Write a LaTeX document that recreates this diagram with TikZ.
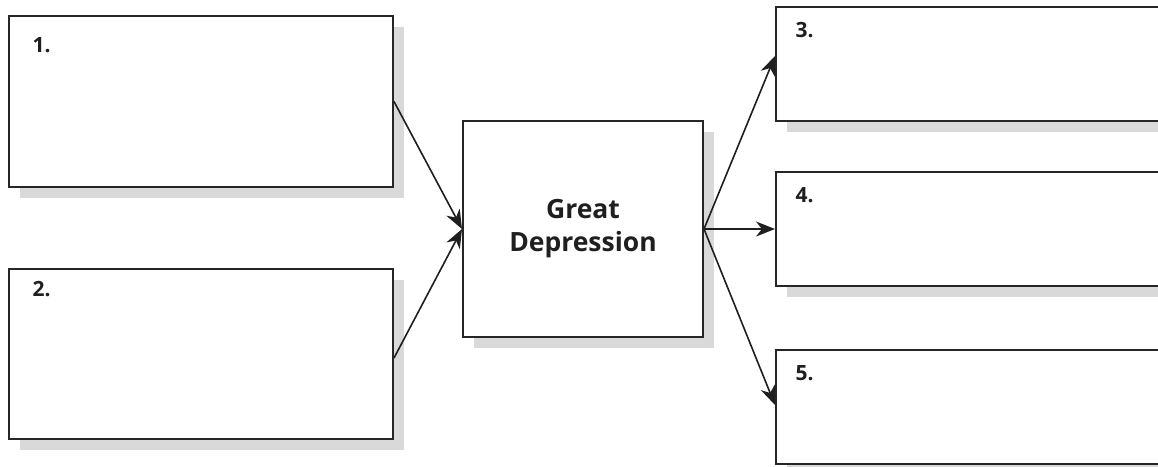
\documentclass[tikz,border=0pt]{standalone}
\usepackage{fontspec}
\setsansfont{Open Sans}
\usetikzlibrary{arrows.meta,shadows}

\tikzset{
  caja/.style={draw=black!85, line width=2pt, fill=white, rectangle,
    anchor=north west, inner sep=0pt,
    general shadow={fill=black!15, shadow xshift=11pt, shadow yshift=-11pt}},
  num/.style={anchor=base west, text=black!88,
    font=\sffamily\bfseries\fontsize{21}{21}\selectfont},
  flecha/.style={draw=black!88, line width=1.6pt,
    -{Stealth[length=19pt,width=15pt,inset=6pt]}}
}

\begin{document}
\begin{tikzpicture}[x=1pt,y=-1pt]
  \path[use as bounding box] (0,0) rectangle (1158,466);
  \clip (0,0) rectangle (1158,466);

  % Causas
  \node[caja, minimum width=384pt, minimum height=171pt] (c1) at (8,15) {};
  \node[num] (n1) at ([xshift=21pt,yshift=-37pt]c1.north west) {1.};
  \node[caja, minimum width=384pt, minimum height=170pt] (c2) at (8,268) {};
  \node[num] (n2) at ([xshift=21pt,yshift=-28pt]c2.north west) {2.};

  % Centro
  \node[caja, anchor=center, minimum width=240pt, minimum height=216pt,
    align=center, text=black!88,
    font=\sffamily\bfseries\fontsize{26.5}{33}\selectfont] (gd) at (583,229)
    {Great\\Depression};

  % Efectos (se salen por la derecha)
  \foreach \n/\y in {3/6,4/171,5/349}{
    \node[caja, minimum width=420pt, minimum height=114pt] (e\n) at (775,\y) {};
    \node[num] (n\n) at ([xshift=17pt,yshift=-31pt]e\n.north west) {\n.};
  }

  % Flechas
  \draw[flecha] (c1.east) -- (gd.west);
  \draw[flecha] ([yshift=-4pt]c2.east) -- (gd.west);
  \draw[flecha] (gd.east) -- ([yshift=8pt]e3.west);
  \draw[flecha] (gd.east) -- (e4.west);
  \draw[flecha] (gd.east) -- ([yshift=2pt]e5.west);
\end{tikzpicture}
\end{document}
